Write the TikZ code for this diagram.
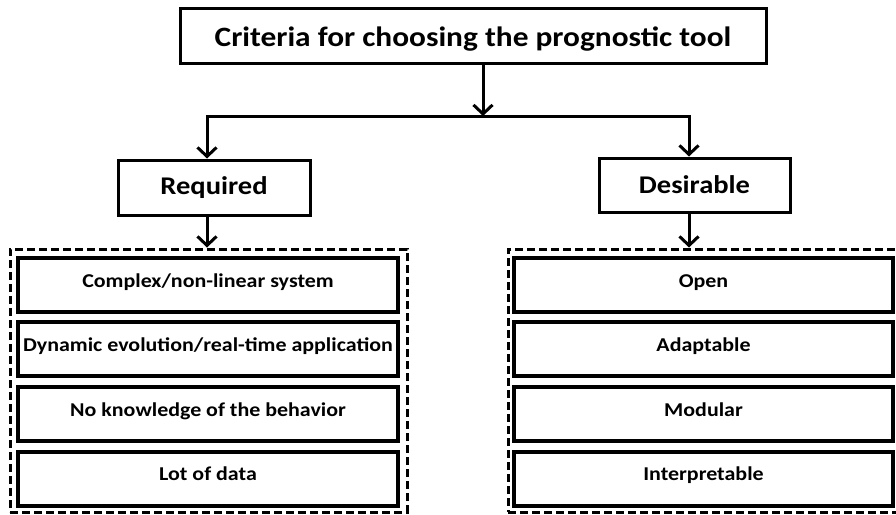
\documentclass[tikz,border=0pt]{standalone}
\usepackage{fontspec}
\setmainfont{Carlito}[FakeStretch=1.12]
\usetikzlibrary{arrows.meta,positioning}
\tikzset{
  >={Straight Barb[length=9pt,width=19pt]},
  hd/.style={draw,line width=3pt,font=\bfseries\fontsize{28}{32}\selectfont,minimum width=586pt,minimum height=55pt,text height=26pt,text depth=5pt},
  cat/.style={draw,line width=3pt,font=\bfseries\fontsize{25.5}{30}\selectfont,minimum width=192pt,minimum height=55pt},
  grp/.style={draw,dash pattern=on 8pt off 4pt,line width=3pt,minimum height=263pt},
  itm/.style={draw,line width=4pt,font=\bfseries\fontsize{19.6}{24}\selectfont,minimum width=380pt,minimum height=54pt,text height=14pt,text depth=10pt,inner xsep=1pt},
  every picture/.style={line width=3pt},
}
\begin{document}
\begin{tikzpicture}[x=1pt,y=-1pt]
\useasboundingbox (0,0) rectangle (896,514);
\node[hd] (crit) at (473,35.5){Criteria for choosing the prognostic tool};
\coordinate (j) at (483,116);
\node[cat] (req) at (214,187.5){Required};
\node[cat,minimum width=191pt,minimum height=54pt] (des) at (694.5,185){Desirable};
% dashed groups
\node[grp,minimum width=397pt] (reqgrp) at (208.5,380.5){};
\node[grp,minimum width=392pt] (desgrp) at (704,380.5){};
% required items
\node[itm] (r1) at (208,285){Complex/non-linear system};
\node[itm] (r2) at (208,349){Dynamic evolution/real-time application};
\node[itm] (r3) at (208,414){No knowledge of the behavior};
\node[itm] (r4) at (208,478.5){Lot of data};
% desirable items
\node[itm,minimum width=379pt] (d1) at (703.5,285){Open};
\node[itm,minimum width=379pt] (d2) at (703.5,349){Adaptable};
\node[itm,minimum width=379pt] (d3) at (703.5,414){Modular};
\node[itm,minimum width=379pt] (d4) at (703.5,478.5){Interpretable};
\draw[->] (crit.south -| j) -- (j);
\draw[->] (j) -| ([xshift=-7pt]req.north);
\draw[->] (j) -| ([xshift=-5.5pt]des.north);
\draw[->] ([xshift=-7pt]req.south) -- ([xshift=-7pt]req.south |- reqgrp.north);
\draw[->] ([xshift=-5.5pt]des.south) -- ([xshift=-5.5pt]des.south |- desgrp.north);
\end{tikzpicture}
\end{document}
